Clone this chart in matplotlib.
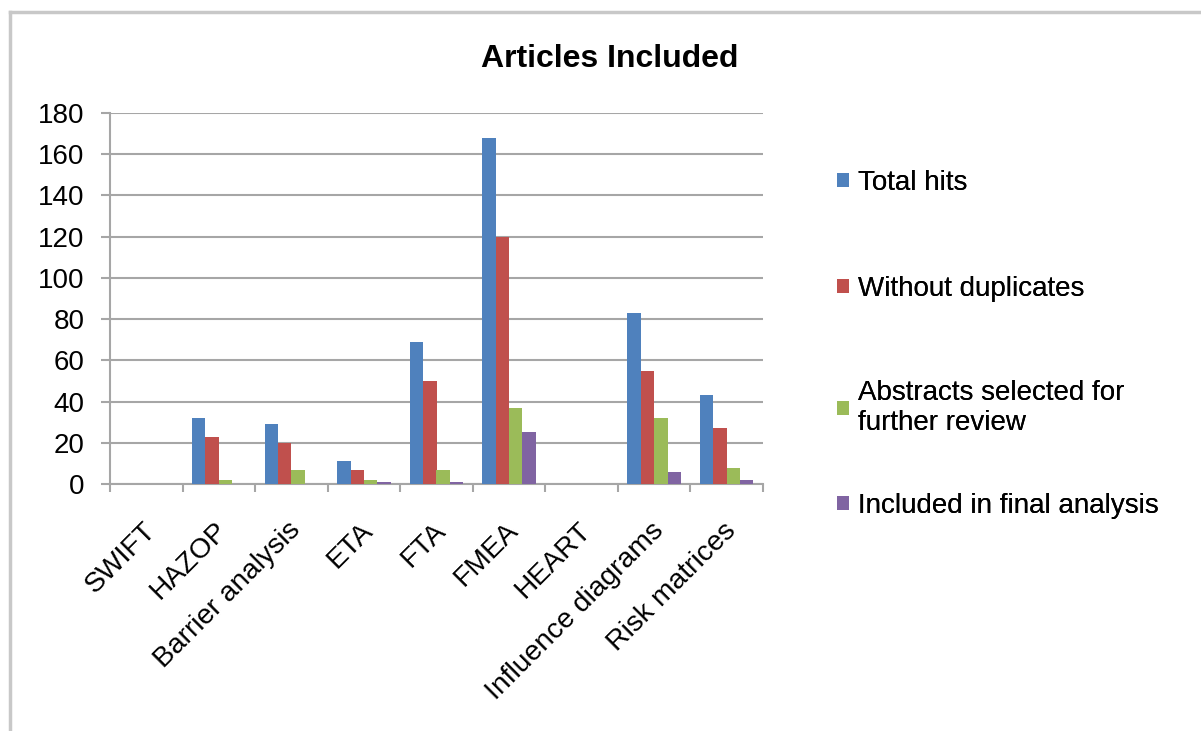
import matplotlib
matplotlib.use("Agg")
import matplotlib.pyplot as plt
import matplotlib.transforms as mtransforms
import numpy as np
from matplotlib.lines import Line2D

categories = ["SWIFT", "HAZOP", "Barrier analysis", "ETA", "FTA", "FMEA",
              "HEART", "Influence diagrams", "Risk matrices"]
series_names = ["Total hits", "Without duplicates",
                "Abstracts selected for\nfurther review",
                "Included in final analysis"]
total_hits = [0, 32, 29, 11, 69, 168, 0, 83, 43]
without_duplicates = [0, 23, 20, 7, 50, 120, 0, 55, 27]
abstracts_selected = [0, 2, 7, 2, 7, 37, 0, 32, 8]
included_final = [0, 0, 0, 1, 1, 25, 0, 6, 2]
yticks = [0, 20, 40, 60, 80, 100, 120, 140, 160, 180]

colors = ["#4F81BD", "#C0504D", "#9BBB59", "#8064A2"]

plt.rcParams['font.family'] = ['Liberation Sans', 'DejaVu Sans']

fig = plt.figure(figsize=(12.01, 7.31), dpi=100)
ax = fig.add_axes([110/1201, 1-484/731, (763-110)/1201, (484-113)/731])

x = np.arange(len(categories))
w = 0.184
data = [total_hits, without_duplicates, abstracts_selected, included_final]
handles = []
for i, (vals, c, name) in enumerate(zip(data, colors, series_names)):
    b = ax.bar(x + (i - 1.5) * w, vals, width=w, color=c, label=name, zorder=3)
    handles.append(b)

ax.set_xlim(-0.5, len(categories) - 0.5)
ax.set_ylim(0, 180)
ax.set_yticks(yticks)
ax.set_yticklabels([str(t) for t in yticks], fontsize=20)
ax.yaxis.grid(True, color="#A6A6A6", linewidth=1.5, zorder=0)
ax.set_axisbelow(True)

ax.set_xticks(x)
ax.set_xticklabels(categories, rotation=45, ha='right', rotation_mode='anchor',
                   fontsize=20.3)
ax.tick_params(axis='x', length=0, pad=24)
shift = mtransforms.ScaledTranslation(-4/100, 0, fig.dpi_scale_trans)
for lbl in ax.get_xticklabels():
    lbl.set_transform(lbl.get_transform() + shift)
# category boundary ticks
ax.set_xticks(np.arange(-0.5, len(categories) + 0.5, 1.0), minor=True)
ax.tick_params(axis='x', which='minor', length=6, width=1.5, color="#A6A6A6", direction='out')
ax.tick_params(axis='y', length=6.5, width=1.5, color="#A6A6A6", direction='out', pad=12)

for s in ['top', 'right']:
    ax.spines[s].set_visible(False)
for s in ['left', 'bottom']:
    ax.spines[s].set_color("#A6A6A6")
    ax.spines[s].set_linewidth(1.5)

fig.text((476+743)/2/1201, 1-59/731, "Articles Included", ha='center', va='center',
         fontsize=23, fontweight='bold')

# legend entries placed individually (Excel-style distributed legend)
legend_y = [183, 289, 408, 506]
for h, name, yc in zip(handles, series_names, legend_y):
    lg = fig.legend(handles=[h], labels=[name], loc='center left',
                    bbox_to_anchor=(837/1201, 1-yc/731), frameon=False,
                    fontsize=20, handlelength=0.42, handleheight=0.42,
                    handletextpad=0.35, borderpad=0, borderaxespad=0)
    fig.add_artist(lg)

# outer chart-area border
fig.add_artist(Line2D([10/1201, 1], [1-12/731, 1-12/731], color="#C8C8C8", linewidth=2.5,
                      transform=fig.transFigure))
fig.add_artist(Line2D([10/1201, 10/1201], [0, 1-12/731], color="#C8C8C8", linewidth=2.5,
                      transform=fig.transFigure))

fig.savefig("out.png", dpi=100)
